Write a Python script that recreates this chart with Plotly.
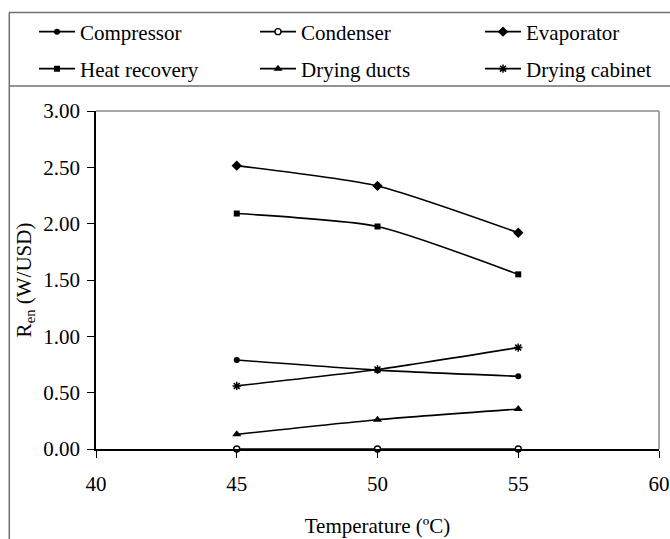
import plotly.graph_objects as go

temperature = [45, 50, 55]
compressor = [0.79, 0.70, 0.645]
condenser = [0.0, 0.0, 0.0]
evaporator = [2.515, 2.335, 1.92]
heat_recovery = [2.09, 1.975, 1.55]
drying_ducts = [0.13, 0.26, 0.355]
drying_cabinet = [0.56, 0.705, 0.90]

x_ticks = [40, 45, 50, 55, 60]
y_ticks = [0.0, 0.5, 1.0, 1.5, 2.0, 2.5, 3.0]

FONT = "Liberation Serif"
FS = 21
W, H = 670, 539
L, R, T, B = 96, 11, 111, 90
PW, PH = W - L - R, H - T - B


def px_x(px):
    return (px - L) / PW


def px_y(py):
    return (H - B - py) / PH


series = [
    ("Compressor", compressor, dict(symbol="circle", size=6, color="black")),
    ("Condenser", condenser, dict(symbol="circle", size=6, color="white",
                                  line=dict(color="black", width=1.4))),
    ("Evaporator", evaporator, dict(symbol="diamond", size=8, color="black")),
    ("Heat recovery", heat_recovery, dict(symbol="square", size=6, color="black")),
    ("Drying ducts", drying_ducts, dict(symbol="triangle-up", size=8, color="black")),
    ("Drying cabinet", drying_cabinet, dict(symbol="asterisk-open", size=7, color="black",
                                            line=dict(color="black", width=1.5))),
]

# legend entry anchor positions (pixels): column starts and row centres
legend_cols = [34, 255, 480]
legend_rows = [32, 69]

fig = go.Figure()
legends = {}
for i, (name, vals, marker) in enumerate(series):
    leg = "legend" if i == 0 else f"legend{i + 1}"
    fig.add_trace(go.Scatter(
        x=temperature, y=vals, name=name, mode="lines+markers",
        line=dict(color="black", width=1.6, shape="spline", smoothing=0.6),
        marker=marker, legend=leg, showlegend=True, cliponaxis=False,
    ))
    legends[leg] = dict(
        x=px_x(legend_cols[i % 3]), y=px_y(legend_rows[i // 3]),
        xanchor="left", yanchor="middle", orientation="h",
        font=dict(family=FONT, size=FS, color="black"),
        bgcolor="rgba(0,0,0,0)", borderwidth=0, itemwidth=36,
        visible=True,
    )

frame_color = "#6f6f6f"
shapes = [
    dict(type="line", xref="paper", yref="paper", x0=px_x(9), x1=px_x(672),
         y0=px_y(12.5), y1=px_y(12.5), line=dict(color=frame_color, width=1.5)),
    dict(type="line", xref="paper", yref="paper", x0=px_x(9.3), x1=px_x(9.3),
         y0=px_y(12.5), y1=px_y(541), line=dict(color=frame_color, width=1.5)),
    dict(type="line", xref="paper", yref="paper", x0=px_x(9), x1=px_x(672),
         y0=px_y(86), y1=px_y(86), line=dict(color=frame_color, width=1.5)),
    dict(type="line", xref="paper", yref="paper", x0=0, x1=1, y0=1, y1=1,
         line=dict(color="#888888", width=1.5)),
    dict(type="line", xref="paper", yref="paper", x0=1, x1=1, y0=0, y1=1,
         line=dict(color="#888888", width=1.5)),
]

fig.update_layout(
    width=W, height=H,
    showlegend=True,
    margin=dict(l=L, r=R, t=T, b=B, autoexpand=False),
    paper_bgcolor="white", plot_bgcolor="white",
    font=dict(family=FONT, size=FS, color="black"),
    shapes=shapes,
    xaxis=dict(
        range=[40, 60], tickvals=x_ticks, ticktext=[str(v) for v in x_ticks],
        showline=True, linecolor="black", linewidth=1.5,
        ticks="outside", ticklen=7, tickcolor="black", tickwidth=1,
        ticklabelstandoff=8, showgrid=False, zeroline=False,
        tickfont=dict(family=FONT, size=FS, color="black"),
        title=dict(text="Temperature (ºC)", standoff=23,
                   font=dict(family=FONT, size=FS, color="black")),
        automargin=False,
    ),
    yaxis=dict(
        range=[0, 3], tickvals=y_ticks, ticktext=[f"{v:.2f}" for v in y_ticks],
        showline=True, linecolor="black", linewidth=1.5,
        ticks="outside", ticklen=7, tickcolor="black", tickwidth=1,
        ticklabelstandoff=3, showgrid=False, zeroline=False,
        tickfont=dict(family=FONT, size=FS, color="black"),
        title=dict(text="R<sub>en</sub> (W/USD)", standoff=6,
                   font=dict(family=FONT, size=FS, color="black")),
        automargin=False,
    ),
)
fig.update_layout(**legends)

fig.write_html("out.html", config={"displayModeBar": False},
               post_script="document.body.style.margin='0';")
